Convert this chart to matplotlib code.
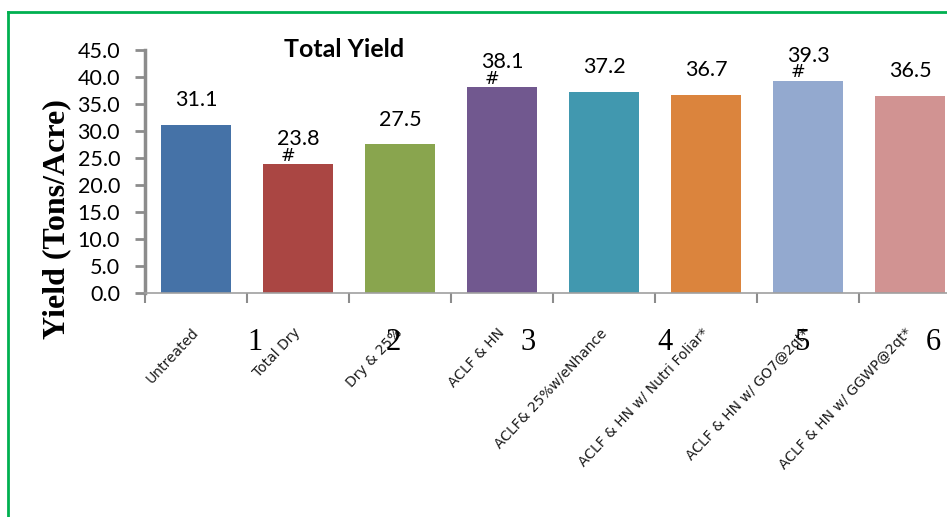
import matplotlib.pyplot as plt
from matplotlib.lines import Line2D
from matplotlib.ticker import FixedLocator

# chart data
treatments = ['Untreated', 'Total Dry', 'Dry & 25%', 'ACLF & HN',
              'ACLF& 25%w/eNhance', 'ACLF & HN w/ Nutri Foliar*',
              'ACLF & HN w/ GO7@2qt*', 'ACLF & HN w/ GGWP@2qt*']
yield_tons = [31.1, 23.8, 27.5, 38.1, 37.2, 36.7, 39.3, 36.5]
significant = [False, True, False, True, False, False, True, False]  # '#' marks
bar_colors = ['#4572A7', '#AA4643', '#89A54E', '#71588F',
              '#4198AF', '#DB843D', '#93A9CF', '#D19392']
overlay_nums = ['1', '2', '3', '4', '5', '6']
y_ticks = [0, 5, 10, 15, 20, 25, 30, 35, 40, 45]

W, H = 947, 517
fig = plt.figure(figsize=(W / 100, H / 100), dpi=100)
# axes run past the right edge, like the cropped original
ax = fig.add_axes([145 / W, 1 - 293 / H, 816 / W, 243 / H])

x = list(range(len(treatments)))
ax.bar(x, yield_tons, width=0.68, color=bar_colors, zorder=2)

for xi, v, sig in zip(x, yield_tons, significant):
    ax.annotate(f'{v:.1f}', (xi, v), xytext=(0, 18), textcoords='offset points',
                ha='center', va='center', fontsize=15.5, family='Lato')
    if sig:
        ax.annotate('#', (xi, v), xytext=(-7, 6), textcoords='offset points',
                    ha='center', va='center', fontsize=12.5, family='DejaVu Sans')

ax.set_xlim(-0.5, len(treatments) - 0.5)
ax.set_ylim(0, 45)
ax.set_yticks(y_ticks)
ax.set_yticklabels([f'{t:.1f}' for t in y_ticks], fontsize=15.5, family='Lato')

ax.set_xticks(x)
ax.set_xticklabels(treatments, rotation=47, ha='right', va='center',
                   rotation_mode='anchor', fontsize=10, color='#1a1a1a',
                   fontweight='medium')
ax.xaxis.set_minor_locator(FixedLocator([i - 0.5 for i in range(len(treatments) + 1)]))
ax.tick_params(axis='x', which='major', length=0, pad=27)
ax.tick_params(axis='x', which='minor', length=7, width=1.5, color='#8c8c8c')
ax.tick_params(axis='y', length=7, width=2, color='#8c8c8c', pad=11)

for s in ['top', 'right']:
    ax.spines[s].set_visible(False)
ax.spines['left'].set_color('#8c8c8c')
ax.spines['left'].set_linewidth(2.5)
ax.spines['bottom'].set_color('#a0a0a0')
ax.spines['bottom'].set_linewidth(1.2)

fig.text(344 / W, 1 - 50 / H, 'Total Yield', ha='center', va='center',
         fontsize=18, fontweight='bold', family='Lato')
fig.text(57 / W, 1 - 219 / H, 'Yield (Tons/Acre)', ha='center', va='center',
         rotation=90, fontsize=23, fontweight='bold', family='Liberation Serif')

# stray numbers sitting over the tick labels
num_x = [255, 393, 528, 665, 802, 933]
for n, px in zip(overlay_nums, num_x):
    fig.text(px / W, 1 - 343 / H, n, ha='center', va='center',
             fontsize=22, family='Liberation Serif')

# green frame (only top and left are in view)
fig.add_artist(Line2D([8 / W, 8 / W], [0, 1 - 12 / H], color='#00B050', lw=2))
fig.add_artist(Line2D([8 / W, 1], [1 - 12 / H, 1 - 12 / H], color='#00B050', lw=2))

fig.savefig('out.png', dpi=100, facecolor='white')
